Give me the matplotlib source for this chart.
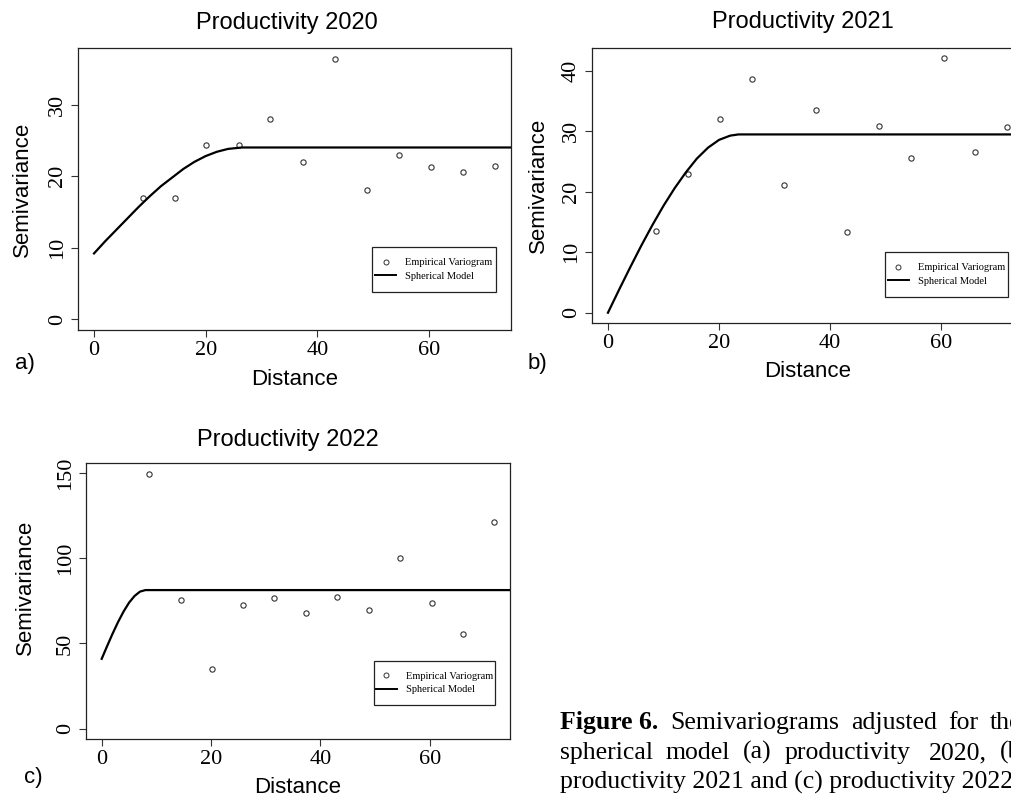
import matplotlib
matplotlib.use("Agg")
import matplotlib.pyplot as plt
from matplotlib.lines import Line2D
from matplotlib.patches import Rectangle

# lag distances of the empirical variograms (same bins every year)
lags = [8.7, 14.45, 20.15, 25.9, 31.6, 37.4, 43.1, 48.85, 54.6, 60.4, 66.1, 71.85]

# empirical semivariance
gamma_2020 = [16.9, 16.9, 24.4, 24.3, 28.0, 22.0, 36.4, 18.1, 22.9, 21.3, 20.6, 21.4]
gamma_2021 = [13.6, 22.9, 32.0, 38.7, 21.1, 33.6, 13.4, 30.9, 25.6, 42.1, 26.6, 30.7]
gamma_2022 = [149.6, 75.4, 35.1, 72.5, 76.4, 67.8, 77.0, 69.5, 100.1, 73.6, 55.4, 121.4]

# fitted spherical model
model_x_2020 = [0, 2, 4, 6, 8, 10, 12, 14, 16, 18, 20, 22, 24, 26.5, 76]
model_y_2020 = [9.2, 10.9, 12.5, 14.1, 15.7, 17.2, 18.6, 19.8, 21.0, 22.0, 22.8, 23.4, 23.8, 24.0, 24.0]
model_x_2021 = [0, 2, 4, 6, 8, 10, 12, 14, 16, 18, 20, 22, 23.5, 76]
model_y_2021 = [0, 3.8, 7.5, 11.1, 14.5, 17.7, 20.6, 23.2, 25.5, 27.3, 28.6, 29.3, 29.5, 29.5]
model_x_2022 = [0, 1, 2, 3, 4, 5, 6, 7, 8, 76]
model_y_2022 = [41.0, 48.5, 55.8, 62.6, 68.7, 73.9, 77.8, 80.4, 81.3, 81.3]

titles = ["Productivity 2020", "Productivity 2021", "Productivity 2022"]
panel_tags = ["a)", "b)", "c)"]
x_ticks = [0, 20, 40, 60]
y_ticks_2020 = [0, 10, 20, 30]
y_ticks_2021 = [0, 10, 20, 30, 40]
y_ticks_2022 = [0, 50, 100, 150]

W, H = 1012, 798
fig = plt.figure(figsize=(W / 100, H / 100), dpi=100)
fig.patch.set_facecolor("white")

def px(x0, y0, x1, y1):
    # pixel box -> figure fraction rect
    return [x0 / W, 1 - y1 / H, (x1 - x0) / W, (y1 - y0) / H]

serif = "Liberation Serif"
sans = "Liberation Sans"

panels = [
    dict(rect=px(78, 48, 511, 330), g=gamma_2020, mx=model_x_2020, my=model_y_2020,
         ylim=(-1.5, 37.9), yt=y_ticks_2020, box=(0.679, 0.135, 0.286, 0.159),
         ylx=-0.129, yly=0.5, title=(287, 23), tag=(15, 363)),
    dict(rect=px(592, 48, 1023, 323), g=gamma_2021, mx=model_x_2021, my=model_y_2021,
         ylim=(-1.7, 43.8), yt=y_ticks_2021, box=(0.680, 0.095, 0.285, 0.163),
         ylx=-0.125, yly=0.5, title=(803, 22), tag=(528, 363)),
    dict(rect=px(86, 463, 510, 739), g=gamma_2022, mx=model_x_2022, my=model_y_2022,
         ylim=(-6.0, 155.8), yt=y_ticks_2022, box=(0.679, 0.123, 0.286, 0.160),
         ylx=-0.143, yly=0.55, title=(288, 440), tag=(24, 777)),
]

for i, p in enumerate(panels):
    ax = fig.add_axes(p["rect"])
    ax.plot(lags, p["g"], "o", mfc="none", mec="#333333", ms=3.8, mew=0.8)
    ax.plot(p["mx"], p["my"], "-", color="black", lw=1.6)
    ax.set_xlim(-2.87, 74.7)
    ax.set_ylim(*p["ylim"])
    ax.set_xticks(x_ticks)
    ax.set_yticks(p["yt"])
    for s in ax.spines.values():
        s.set_color("#222222")
        s.set_linewidth(0.9)
    ax.tick_params(direction="out", length=5, width=0.8, color="#333333", pad=3)
    for t in ax.get_xticklabels():
        t.set_fontfamily(serif)
        t.set_fontsize(16)
    for t in ax.get_yticklabels():
        t.set_fontfamily(serif)
        t.set_fontsize(16)
        t.set_rotation(90)
        t.set_va("center")

    ax.set_xlabel("Distance", fontsize=16, fontfamily=sans)
    ax.xaxis.set_label_coords(0.5, -0.177)
    ax.xaxis.label.set_va("center")
    ax.set_ylabel("Semivariance", fontsize=16, fontfamily=sans)
    ax.yaxis.set_label_coords(p["ylx"], p["yly"])
    ax.yaxis.label.set_va("center")

    # R style legend: tight sides, roomy top and bottom
    bx, by, bw, bh = p["box"]
    ax.add_patch(Rectangle((bx, by), bw, bh, transform=ax.transAxes, fill=False,
                           ec="#222222", lw=0.9, zorder=5))
    handles = [Line2D([], [], ls="none", marker="o", mfc="none", mec="#333333", ms=3.6, mew=0.7),
               Line2D([], [], color="black", lw=1.4)]
    ax.legend(handles, ["Empirical Variogram", "Spherical Model"],
              loc="center", bbox_to_anchor=(bx + bw / 2, by + bh / 2), borderaxespad=0,
              prop={"family": serif, "size": 7.5}, frameon=False, borderpad=0,
              labelspacing=0.4, handlelength=2.0, handletextpad=0.85)

    tx, ty = p["title"]
    fig.text(tx / W, 1 - ty / H, titles[i], fontsize=17, fontfamily=sans,
             ha="center", va="center")
    gx, gy = p["tag"]
    fig.text(gx / W, 1 - gy / H, panel_tags[i], fontsize=16, fontfamily=sans,
             ha="left", va="center")

# caption (justified in the source, so words are placed one by one)
line1 = [("Figure 6.", 560, "bold"), ("Semivariograms", 670, "normal"),
         ("adjusted", 851, "normal"), ("for", 948, "normal"), ("the", 990, "normal")]
line2 = [("spherical", 560, "normal"), ("model", 666, "normal"), ("(a)", 743, "normal"),
         ("productivity", 785, "normal"), ("2020,", 929, "normal"), ("(b)", 1000, "normal")]
for word, x, w in line1:
    fig.text(x / W, 1 - 729 / H, word, fontsize=18.5, fontfamily=serif, fontweight=w,
             va="baseline")
for word, x, w in line2:
    fig.text(x / W, 1 - 759 / H, word, fontsize=18.5, fontfamily=serif, fontweight=w,
             va="baseline")
fig.text(560 / W, 1 - 789 / H, "productivity 2021 and (c) productivity 2022.",
         fontsize=18.5, fontfamily=serif, va="baseline")

fig.savefig("out.png", dpi=100)
